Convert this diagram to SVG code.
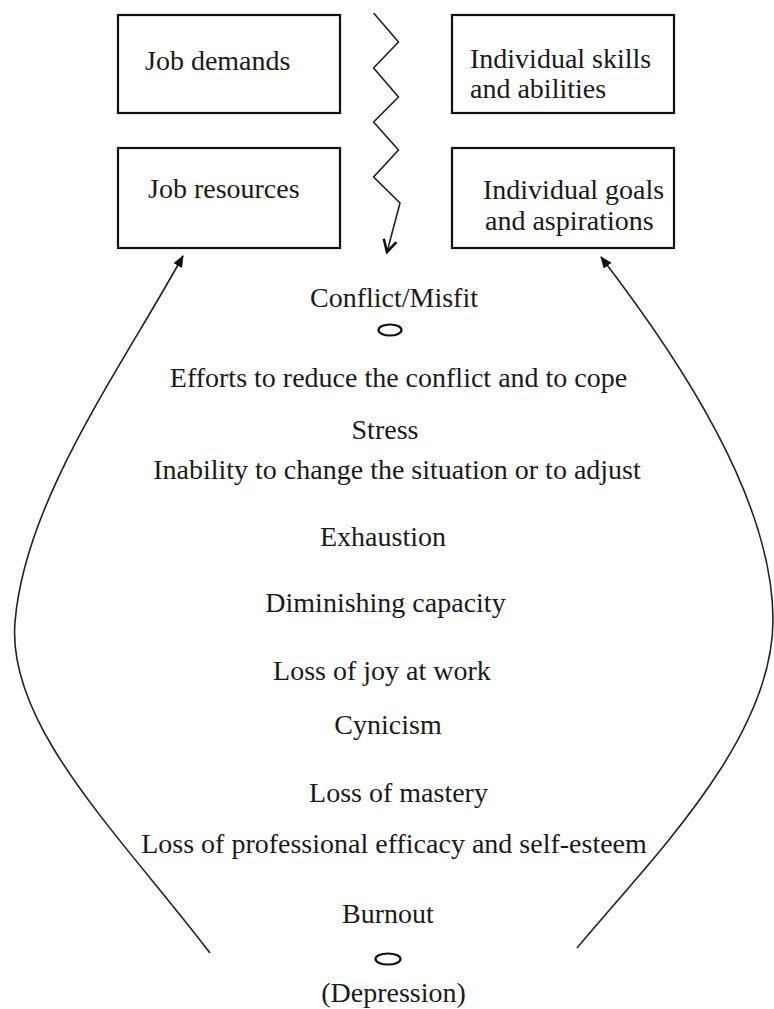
<svg xmlns="http://www.w3.org/2000/svg" width="774" height="1009" viewBox="0 0 774 1009">
  <style>
    .box { fill: #ffffff; stroke: #111111; stroke-width: 2.2; }
    .lbl { font-family: 'Liberation Serif', 'Tinos', 'DejaVu Serif', 'Noto Serif', serif; font-size: 28px; fill: #1a1a1a; }
    .mid { text-anchor: middle; }
    .wire { fill: none; stroke: #222222; stroke-width: 1.6; }
    .ring { fill: none; stroke: #111111; stroke-width: 2.2; }
  </style>
  <defs>
    <marker id="solidHead" viewBox="0 0 12 10" refX="11" refY="5" markerWidth="12" markerHeight="10" markerUnits="userSpaceOnUse" orient="auto">
      <path d="M0,0 L12,5 L0,10 Z" fill="#111111"/>
    </marker>
    <marker id="openHead" viewBox="0 0 16 16" refX="14" refY="8" markerWidth="16" markerHeight="16" markerUnits="userSpaceOnUse" orient="auto">
      <path d="M2,1.5 L14,8 L2,14.5" fill="none" stroke="#111111" stroke-width="2.6"/>
    </marker>
  </defs>
  <rect width="774" height="1009" fill="#ffffff"/>

  <g id="job-demands">
    <rect class="box" x="118" y="15" width="222" height="98"/>
    <text class="lbl" font-family="Liberation Serif, serif" x="145" y="70">Job demands</text>
  </g>
  <g id="job-resources">
    <rect class="box" x="118" y="148" width="222" height="100"/>
    <text class="lbl" font-family="Liberation Serif, serif" x="148" y="198">Job resources</text>
  </g>
  <g id="skills-abilities">
    <rect class="box" x="452" y="15" width="222" height="98"/>
    <text class="lbl" font-family="Liberation Serif, serif" x="470" y="68">Individual skills</text>
    <text class="lbl" font-family="Liberation Serif, serif" x="470" y="98">and abilities</text>
  </g>
  <g id="goals-aspirations">
    <rect class="box" x="452" y="148" width="222" height="100"/>
    <text class="lbl" font-family="Liberation Serif, serif" x="483" y="199">Individual goals</text>
    <text class="lbl" font-family="Liberation Serif, serif" x="485" y="230">and aspirations</text>
  </g>

  <g id="connectors">
    <!-- zigzag tension between the two columns -->
    <path class="wire" d="M373.6,13 L398.5,42 L373.6,68 L398.5,97 L373.6,122 L398.5,150 L373.6,177 L400,203 L387,252" marker-end="url(#openHead)"/>
    <!-- feedback loops back to the boxes -->
    <path class="wire" d="M210,953 C120,835 6.5,726 15,622 C25,500 120,370 183,256" marker-end="url(#solidHead)"/>
    <path class="wire" d="M577,948 C650,860 773,740 773,620 C773,500 680,360 601,257" marker-end="url(#solidHead)"/>
  </g>

  <g id="sequence" font-family="Liberation Serif, serif">
    <text class="lbl mid" x="394" y="307">Conflict/Misfit</text>
    <ellipse class="ring" cx="390" cy="330" rx="11.5" ry="5.5"/>
    <text class="lbl mid" x="398.5" y="387">Efforts to reduce the conflict and to cope</text>
    <text class="lbl mid" x="385" y="439">Stress</text>
    <text class="lbl mid" x="397" y="479">Inability to change the situation or to adjust</text>
    <text class="lbl mid" x="383" y="546">Exhaustion</text>
    <text class="lbl mid" x="385.5" y="612">Diminishing capacity</text>
    <text class="lbl mid" x="382" y="680">Loss of joy at work</text>
    <text class="lbl mid" x="388" y="734">Cynicism</text>
    <text class="lbl mid" x="398.5" y="802">Loss of mastery</text>
    <text class="lbl mid" x="394" y="853">Loss of professional efficacy and self-esteem</text>
    <text class="lbl mid" x="388" y="923">Burnout</text>
    <ellipse class="ring" cx="388" cy="959" rx="12.5" ry="5.5"/>
    <text class="lbl mid" x="393.5" y="1002">(Depression)</text>
  </g>
</svg>
